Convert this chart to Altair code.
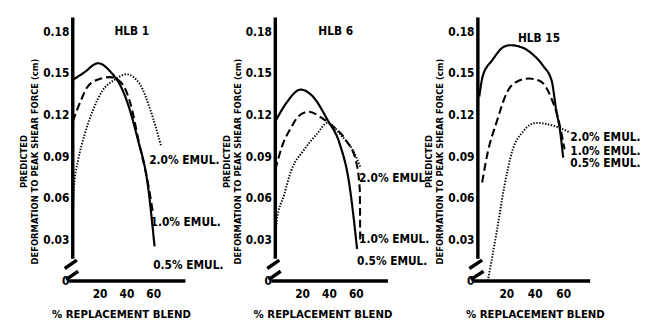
import altair as alt
import pandas as pd

PANELS = ["HLB 1", "HLB 6", "HLB 15"]
SERIES = ["0.5% EMUL.", "1.0% EMUL.", "2.0% EMUL."]
LABEL_TEXT = {
    "HLB 1": ["0.5% EMUL.", "1.0% EMUL.", "2.0% EMUL."],
    "HLB 6": ["0.5% EMUL.", "1.0% EMUL.", "2.0% EMUL"],
    "HLB 15": ["0.5% EMUL.", "1.0% EMUL.", "2.0% EMUL."],
}

# ---- HLB 1 ----
HLB1_05_X = [0, 8, 19, 28, 36, 41, 48, 56, 61]
HLB1_05_Y = [0.145, 0.150, 0.157, 0.151, 0.140, 0.128, 0.104, 0.069, 0.025]
HLB1_10_X = [0, 6, 11, 21, 28, 37, 43, 50, 56, 60]
HLB1_10_Y = [0.115, 0.130, 0.140, 0.146, 0.147, 0.142, 0.128, 0.097, 0.071, 0.048]
HLB1_20_X = [0, 1, 4, 9, 15, 22, 31, 40, 50, 58, 66]
HLB1_20_Y = [0.048, 0.069, 0.087, 0.106, 0.123, 0.137, 0.145, 0.149, 0.142, 0.123, 0.097]

# ---- HLB 6 ----
HLB6_05_X = [0, 8, 19, 28, 39, 48, 55, 61]
HLB6_05_Y = [0.115, 0.128, 0.138, 0.133, 0.116, 0.099, 0.071, 0.023]
HLB6_10_X = [0, 5, 12, 17.5, 25, 34, 41, 53, 60, 63, 63.3]
HLB6_10_Y = [0.080, 0.097, 0.111, 0.119, 0.122, 0.118, 0.113, 0.101, 0.087, 0.066, 0.030]
HLB6_20_X = [0, 1, 6.5, 12, 21, 31, 39, 49, 58, 63.5]
HLB6_20_Y = [0.028, 0.043, 0.062, 0.080, 0.094, 0.106, 0.114, 0.105, 0.094, 0.082]

# ---- HLB 15 ----
HLB15_05_X = [1, 3.5, 10, 18.6, 23, 32, 39, 46, 52, 55, 58, 60]
HLB15_05_Y = [0.133, 0.148, 0.159, 0.169, 0.170, 0.168, 0.163, 0.155, 0.144, 0.124, 0.107, 0.089]
HLB15_10_X = [3, 7, 13, 21, 28, 36, 44, 52, 56.5, 61]
HLB15_10_Y = [0.071, 0.093, 0.114, 0.137, 0.144, 0.146, 0.144, 0.131, 0.117, 0.095]
HLB15_20_X = [7, 13, 18.6, 24, 32, 41, 53, 65]
HLB15_20_Y = [0.000, 0.034, 0.068, 0.093, 0.108, 0.114, 0.112, 0.107]

# curve-end labels (x, y) in data units, order as SERIES
LABEL_X = {"HLB 1": [60, 58, 57], "HLB 6": [61, 62.5, 62.5], "HLB 15": [65, 65, 65]}
LABEL_Y = {"HLB 1": [0.0113, 0.0425, 0.087], "HLB 6": [0.0142, 0.030, 0.0745],
           "HLB 15": [0.085, 0.094, 0.104]}
TITLE_X = [44, 45, 43]
TITLE_Y = [0.180, 0.180, 0.175]
X_MAX = [88, 88, 83]
Y_TICKS = [0, 0.03, 0.06, 0.09, 0.12, 0.15, 0.18]
X_TICKS = [20, 40, 60]
XTITLE_POS = [49, 48, 58]

CURVES = {
    "HLB 1": [(HLB1_05_X, HLB1_05_Y), (HLB1_10_X, HLB1_10_Y), (HLB1_20_X, HLB1_20_Y)],
    "HLB 6": [(HLB6_05_X, HLB6_05_Y), (HLB6_10_X, HLB6_10_Y), (HLB6_20_X, HLB6_20_Y)],
    "HLB 15": [(HLB15_05_X, HLB15_05_Y), (HLB15_10_X, HLB15_10_Y), (HLB15_20_X, HLB15_20_Y)],
}

FONT = "DejaVu Sans Condensed, Liberation Sans Narrow, sans-serif"

rows = []
for p in PANELS:
    for s, (xs, ys) in zip(SERIES, CURVES[p]):
        for i, (xv, yv) in enumerate(zip(xs, ys)):
            rows.append({"panel": p, "series": s, "x": xv, "y": yv, "idx": i})
lines_df = pd.DataFrame(rows)


def make_panel(k, p):
    xscale = alt.Scale(domain=[0, X_MAX[k]], nice=False, zero=False)
    yscale = alt.Scale(domain=[0, 0.19], nice=False, zero=False)
    xaxis = alt.Axis(values=X_TICKS, domain=False, ticks=False, tickSize=0, grid=False,
                     labelFont=FONT, labelFontWeight="bold", labelFontSize=12, labelColor="black",
                     labelPadding=8, title="% REPLACEMENT BLEND", titleFont=FONT,
                     titleFontWeight="bold", titleFontSize=11.5, titleColor="black",
                     titlePadding=9, titleX=XTITLE_POS[k])
    yaxis = alt.Axis(values=Y_TICKS, domain=False, ticks=False, tickSize=0, grid=False,
                     labelExpr="datum.value == 0 ? '0' : format(datum.value, '.2f')",
                     labelFont=FONT, labelFontWeight="bold", labelFontSize=12, labelColor="black",
                     labelPadding=4, title=["PREDICTED", "DEFORMATION TO PEAK SHEAR FORCE (cm)"],
                     titleFont=FONT, titleFontWeight="bold", titleFontSize=9.5,
                     titleColor="black", titlePadding=3, titleLineHeight=11, titleY=146)

    d = lines_df[lines_df.panel == p]
    lines = alt.Chart(d).mark_line(color="black", interpolate="monotone").encode(
        x=alt.X("x:Q", scale=xscale, axis=xaxis),
        y=alt.Y("y:Q", scale=yscale, axis=yaxis),
        detail="series:N",
        order="idx:Q",
        strokeDash=alt.StrokeDash("series:N", scale=alt.Scale(domain=SERIES, range=[[1, 0], [8, 4], [1.4, 1.6]]), legend=None),
        strokeWidth=alt.StrokeWidth("series:N", scale=alt.Scale(domain=SERIES, range=[2.2, 2.0, 1.3]), legend=None),
    )

    lab_df = pd.DataFrame({"x": LABEL_X[p], "y": LABEL_Y[p], "t": LABEL_TEXT[p]})
    labels = alt.Chart(lab_df).mark_text(align="left", baseline="middle", font=FONT,
                                         fontWeight="bold", fontSize=12, color="black").encode(
        x="x:Q", y="y:Q", text="t:N")

    title_df = pd.DataFrame({"x": [TITLE_X[k]], "y": [TITLE_Y[k]], "t": [p]})
    title = alt.Chart(title_df).mark_text(align="center", baseline="middle", font=FONT,
                                          fontWeight="bold", fontSize=12, color="black").encode(
        x="x:Q", y="y:Q", text="t:N")

    xend = X_MAX[k] - 4
    seg_df = pd.DataFrame({
        "x": [0, -6, -5, -3],
        "x2": [0, 3, 4, xend],
        "y": [0.016, 0.009, 0.001, 0.0],
        "y2": [0.19, 0.015, 0.007, 0.0],
    })
    segs = alt.Chart(seg_df).mark_rule(color="black", strokeWidth=3.5, strokeCap="butt").encode(
        x="x:Q", x2="x2:Q", y="y:Q", y2="y2:Q")

    return alt.layer(segs, lines, labels, title).properties(width=120, height=268)


panels = [make_panel(k, p) for k, p in enumerate(PANELS)]
chart = alt.hconcat(*panels, spacing=86, bounds="flush").configure_view(stroke=None).properties(
    background="white", padding={"left": 19, "top": 13, "right": 5, "bottom": 2})

chart.save("out.html", embed_options={"renderer": "svg", "actions": False})
